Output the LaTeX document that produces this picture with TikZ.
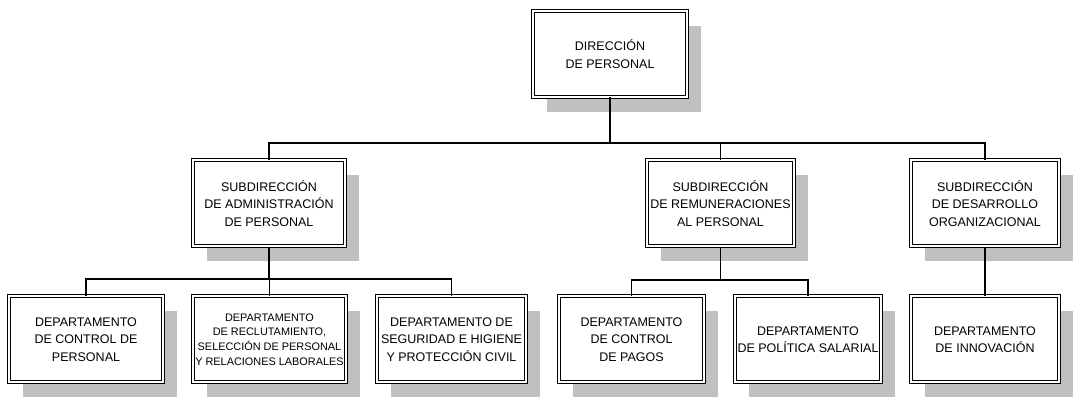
\documentclass[tikz,border=0pt]{standalone}
\usepackage{fontspec}
\setmainfont{Liberation Sans}
\usepackage{tikz}
\usetikzlibrary{shadows}
\definecolor{shadowgray}{RGB}{192,192,192}
\tikzstyle{org_n} = [rectangle, draw=black, fill=white, double, double distance=2pt, line width=1pt, align=center, inner sep=0pt, minimum height=86pt, font=\fontsize{12.5}{17.5}\selectfont, drop shadow={shadow xshift=14pt, shadow yshift=-15pt, opacity=1, fill=shadowgray}]
\tikzstyle{org_s} = [org_n, font=\fontsize{10.9}{14.6}\selectfont]
\tikzstyle{org_l} = [draw=black, line width=1.2pt]

\begin{document}
\begin{tikzpicture}[x=1pt,y=1pt]
\useasboundingbox (0,0) rectangle (1083,398);
\node [org_n, minimum width=154pt] (dir) at (610,344) {DIRECCIÓN\\DE PERSONAL};

\node [org_n, minimum width=152pt] (subadm) at (269,194.5) {SUBDIRECCIÓN\\DE ADMINISTRACIÓN\\DE PERSONAL};
\node [org_n, minimum width=147pt] (subrem) at (720.5,194.5) {SUBDIRECCIÓN\\DE REMUNERACIONES\\AL PERSONAL};
\node [org_n, minimum width=148pt] (subdes) at (985,194.5) {SUBDIRECCIÓN\\DE DESARROLLO\\ORGANIZACIONAL};

\node [org_n, minimum width=154pt] (depctl) at (86,58.5) {DEPARTAMENTO\\DE CONTROL DE\\PERSONAL};
\node [org_s, minimum width=153pt] (deprec) at (269.5,58.5) {DEPARTAMENTO\\DE RECLUTAMIENTO,\\SELECCIÓN DE PERSONAL\\Y RELACIONES LABORALES};
\node [org_n, minimum width=149pt] (depseg) at (451.5,58.5) {DEPARTAMENTO DE\\SEGURIDAD E HIGIENE\\Y PROTECCIÓN CIVIL};
\node [org_n, minimum width=145pt] (deppag) at (631.5,58.5) {DEPARTAMENTO\\DE CONTROL\\DE PAGOS};
\node [org_n, minimum width=146pt] (deppol) at (808,58.5) {DEPARTAMENTO\\DE POLÍTICA SALARIAL};
\node [org_n, minimum width=148pt] (depinn) at (985,58.5) {DEPARTAMENTO\\DE INNOVACIÓN};

\coordinate (busdir) at (610,255);
\coordinate (busadm) at (269,119);
\coordinate (busrem) at (720.5,118);

\draw [org_l, line width=1.8pt] (dir.south) -- (busdir);
\draw [org_l] (busdir) -| (subadm.north);
\draw [org_l] (busdir) -| (subrem.north);
\draw [org_l] (busdir) -| (subdes.north);

\draw [org_l] (subadm.south) -- (busadm);
\draw [org_l] (busadm) -| (depctl.north);
\draw [org_l] (busadm) -| (deprec.north);
\draw [org_l] (busadm) -| (depseg.north);

\draw [org_l] (subrem.south) -- (busrem);
\draw [org_l] (busrem) -| (deppag.north);
\draw [org_l] (busrem) -| (deppol.north);

\draw [org_l] (subdes.south) -- (depinn.north);
\end{tikzpicture}
\end{document}
